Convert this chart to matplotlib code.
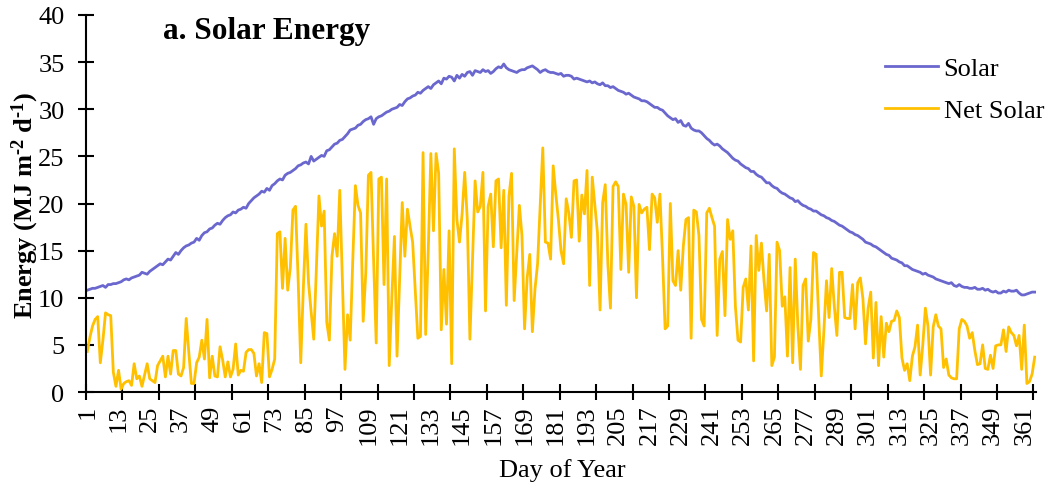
import numpy as np
import matplotlib
matplotlib.use("Agg")
import matplotlib.pyplot as plt
from matplotlib.ticker import FixedLocator, NullFormatter

plt.rcParams['font.family'] = ['Liberation Serif', 'DejaVu Serif']
plt.rcParams['mathtext.fontset'] = 'custom'
plt.rcParams['mathtext.rm'] = 'Liberation Serif:bold'
plt.rcParams['mathtext.bf'] = 'Liberation Serif:bold'
plt.rcParams['mathtext.it'] = 'Liberation Serif:bold:italic'

# Daily solar radiation (MJ m-2 d-1), day 1..365
solar = [
    10.8, 10.9, 11.0, 11.0, 11.1, 11.2, 11.3, 11.1, 11.4, 11.4,
    11.5, 11.5, 11.6, 11.7, 11.9, 12.0, 11.9, 12.1, 12.2, 12.3,
    12.4, 12.7, 12.6, 12.5, 12.8, 13.0, 13.2, 13.4, 13.6, 13.5,
    13.8, 14.1, 14.0, 14.4, 14.8, 14.6, 15.0, 15.3, 15.5, 15.6,
    15.8, 15.9, 16.3, 16.1, 16.6, 16.9, 17.0, 17.3, 17.4, 17.7,
    17.9, 17.8, 18.2, 18.5, 18.7, 18.8, 19.1, 19.0, 19.3, 19.4,
    19.6, 19.5, 20.0, 20.3, 20.6, 20.8, 21.0, 21.3, 21.2, 21.6,
    21.4, 21.9, 22.1, 22.4, 22.6, 22.5, 23.0, 23.2, 23.3, 23.5,
    23.7, 24.0, 24.1, 24.3, 24.4, 24.2, 25.0, 24.5, 24.7, 24.9,
    25.1, 25.0, 25.6, 25.7, 26.0, 26.3, 26.4, 26.7, 26.8, 27.1,
    27.4, 27.8, 27.9, 28.0, 28.3, 28.4, 28.7, 28.9, 29.0, 29.2,
    28.4, 29.0, 29.2, 29.3, 29.5, 29.7, 29.8, 30.0, 30.1, 30.2,
    30.5, 30.4, 30.8, 31.1, 31.2, 31.4, 31.5, 31.8, 31.7, 32.0,
    32.2, 32.4, 32.2, 32.6, 32.8, 33.0, 32.7, 33.3, 33.2, 33.5,
    33.4, 33.0, 33.6, 33.3, 33.7, 33.5, 33.9, 34.0, 33.6, 34.1,
    34.0, 33.9, 34.2, 34.0, 34.1, 33.8, 34.0, 34.3, 34.5, 34.4,
    34.8, 34.4, 34.2, 34.1, 34.0, 33.9, 34.1, 34.2, 34.2, 34.4,
    34.5, 34.6, 34.4, 34.2, 33.9, 34.1, 34.2, 34.0, 33.9, 33.9,
    33.8, 33.7, 33.8, 33.5, 33.6, 33.6, 33.5, 33.2, 33.3, 33.2,
    33.1, 33.0, 32.9, 33.0, 32.8, 32.9, 32.7, 32.6, 32.8, 32.5,
    32.5, 32.3, 32.4, 32.2, 32.0, 31.9, 31.8, 31.6, 31.7, 31.5,
    31.3, 31.2, 31.1, 30.9, 30.9, 30.8, 30.6, 30.4, 30.2, 30.2,
    30.0, 29.9, 29.6, 29.3, 29.1, 28.9, 29.0, 28.6, 28.8, 28.3,
    28.2, 28.5, 28.0, 27.8, 27.7, 27.7, 27.5, 27.2, 26.9, 26.7,
    26.4, 26.2, 26.3, 26.1, 25.8, 25.6, 25.4, 25.1, 24.8, 24.6,
    24.5, 24.2, 24.0, 23.8, 23.7, 23.4, 23.4, 23.1, 22.9, 22.8,
    22.5, 22.2, 22.2, 21.9, 21.7, 21.6, 21.3, 21.1, 21.0, 20.8,
    20.6, 20.5, 20.2, 20.3, 20.0, 19.8, 19.7, 19.5, 19.4, 19.2,
    19.2, 19.0, 18.8, 18.7, 18.5, 18.4, 18.2, 18.1, 17.9, 17.7,
    17.6, 17.4, 17.2, 17.0, 16.9, 16.7, 16.6, 16.4, 16.2, 15.9,
    15.8, 15.7, 15.5, 15.4, 15.2, 15.0, 14.8, 14.6, 14.5, 14.2,
    14.1, 14.0, 13.8, 13.7, 13.4, 13.4, 13.2, 13.0, 12.9, 12.8,
    12.7, 12.5, 12.6, 12.4, 12.3, 12.2, 12.0, 11.9, 11.8, 11.7,
    11.6, 11.5, 11.6, 11.3, 11.2, 11.4, 11.2, 11.1, 11.1, 11.0,
    11.0, 11.1, 10.9, 10.9, 11.0, 10.8, 10.9, 10.7, 10.6, 10.7,
    10.5, 10.5, 10.7, 10.6, 10.8, 10.7, 10.7, 10.8, 10.5, 10.3,
    10.3, 10.4, 10.5, 10.6, 10.6,
]

# Daily net solar radiation (MJ m-2 d-1), day 1..365
net_solar = [
    4.3, 5.8, 7.0, 7.7, 8.0, 3.1, 5.5, 8.4, 8.2, 8.1,
    2.1, 0.6, 2.3, 0.3, 0.9, 1.1, 1.2, 0.7, 3.0, 1.4,
    1.7, 0.6, 1.8, 3.0, 1.4, 1.2, 1.0, 2.8, 3.3, 3.8,
    1.6, 3.8, 1.9, 4.4, 4.4, 1.9, 1.7, 2.6, 7.8, 4.2,
    0.9, 0.9, 3.1, 3.7, 5.5, 3.5, 7.7, 1.5, 3.8, 1.7,
    1.6, 4.8, 3.4, 1.6, 3.2, 1.6, 2.4, 5.1, 1.8, 2.3,
    2.2, 4.2, 4.5, 4.5, 4.1, 1.7, 3.0, 1.0, 6.3, 6.2,
    1.6, 2.4, 3.5, 16.8, 17.0, 11.0, 16.3, 10.8, 13.2, 19.3,
    19.7, 12.0, 3.1, 11.0, 17.8, 11.6, 8.5, 5.6, 13.0, 20.8,
    17.6, 19.2, 7.4, 5.5, 14.4, 16.8, 14.4, 21.4, 12.0, 2.4,
    8.2, 5.5, 14.0, 21.9, 19.8, 19.0, 7.5, 12.7, 23.0, 23.3,
    14.0, 5.2, 22.6, 22.8, 11.4, 22.6, 2.8, 10.0, 16.5, 3.8,
    12.0, 20.1, 14.4, 19.4, 17.6, 15.9, 10.8, 5.7, 5.9, 25.4,
    6.1, 15.0, 25.3, 17.1, 25.3, 23.2, 6.6, 13.0, 7.2, 17.1,
    3.0, 25.8, 18.3, 15.9, 18.9, 23.3, 18.3, 5.6, 14.0, 22.4,
    19.1, 19.7, 23.3, 8.6, 19.7, 21.0, 15.4, 22.4, 22.6, 15.3,
    21.4, 9.2, 20.8, 23.2, 9.7, 14.8, 19.8, 16.6, 6.7, 12.1,
    14.6, 6.4, 10.9, 13.6, 19.8, 25.9, 15.9, 15.8, 14.1, 24.0,
    21.0, 18.3, 15.0, 13.6, 20.5, 19.0, 16.4, 22.4, 22.5, 16.0,
    20.9, 18.9, 23.5, 11.3, 22.8, 19.8, 16.9, 8.7, 20.1, 22.0,
    13.6, 8.9, 21.8, 22.3, 21.8, 13.0, 21.0, 19.9, 12.7, 20.7,
    19.7, 10.0, 19.9, 19.0, 19.4, 19.6, 15.1, 21.0, 20.6, 18.0,
    21.0, 14.4, 6.7, 7.0, 20.0, 11.8, 11.3, 15.0, 10.8, 15.5,
    18.3, 18.5, 5.7, 19.3, 19.1, 16.6, 7.7, 7.0, 19.0, 19.5,
    18.5, 17.6, 6.0, 14.1, 14.9, 8.1, 18.3, 16.2, 17.1, 9.1,
    5.5, 5.3, 11.1, 12.0, 8.7, 15.5, 3.3, 16.6, 12.9, 15.8,
    11.8, 8.6, 14.6, 2.8, 3.7, 15.9, 15.0, 9.1, 10.1, 3.8,
    13.2, 3.1, 14.1, 7.0, 2.4, 11.3, 12.0, 5.4, 7.7, 14.8,
    14.6, 8.0, 1.7, 6.5, 11.8, 7.9, 13.1, 9.1, 6.0, 12.7,
    12.7, 7.9, 7.8, 7.8, 11.4, 6.7, 11.6, 12.1, 9.9, 5.1,
    8.9, 10.6, 3.6, 9.5, 2.8, 8.0, 3.7, 7.3, 6.4, 7.5,
    7.6, 8.6, 7.9, 3.6, 2.3, 3.0, 1.2, 3.8, 4.8, 7.1,
    1.8, 5.0, 8.9, 7.0, 1.8, 6.9, 8.2, 7.0, 6.7, 2.6,
    3.5, 1.8, 1.5, 1.4, 1.4, 6.7, 7.7, 7.5, 7.0, 5.7,
    6.3, 4.4, 2.9, 3.0, 5.0, 2.5, 2.4, 3.9, 2.5, 4.9,
    5.0, 5.0, 6.6, 4.3, 6.9, 6.3, 6.0, 4.9, 6.0, 2.4,
    7.1, 0.9, 1.1, 1.9, 3.7,
]

days = np.arange(1, len(solar) + 1)
label_days = list(range(1, 362, 12))
y_ticks = list(range(0, 41, 5))

SOLAR_COLOR = '#6A67CE'
NET_COLOR = '#FFC000'
FS = 19

fig = plt.figure(figsize=(10.46, 4.89), dpi=100)
ax = fig.add_axes([86 / 1046, 1 - 393 / 489, 950 / 1046, 377 / 489])

ax.plot(days, solar, color=SOLAR_COLOR, lw=2.0, label='Solar', solid_joinstyle='round')
ax.plot(days, net_solar, color=NET_COLOR, lw=2.0, label='Net Solar', solid_joinstyle='round')

ax.set_xlim(0.5, len(days) + 0.5)
ax.set_ylim(0, 40)

# Category labels every 12 days, tick marks on category boundaries every 14 days
ax.xaxis.set_major_locator(FixedLocator(label_days))
ax.set_xticklabels([str(d) for d in label_days], rotation=90, fontsize=FS)
ax.tick_params(axis='x', which='major', length=0, pad=9)
ax.xaxis.set_minor_locator(FixedLocator([0.5 + 14 * k for k in range(27)]))
ax.xaxis.set_minor_formatter(NullFormatter())
ax.tick_params(axis='x', which='minor', direction='inout', length=11, width=1.5, color='black')

ax.set_yticks(y_ticks)
ax.set_yticklabels([str(v) for v in y_ticks], fontsize=FS)
ax.tick_params(axis='y', direction='inout', length=11, width=1.5, pad=10)

for side in ('top', 'right'):
    ax.spines[side].set_visible(False)
for side in ('left', 'bottom'):
    ax.spines[side].set_linewidth(1.5)

fig.text(163 / 1046, 1 - 31 / 489, 'a. Solar Energy', fontsize=22.5, fontweight='bold',
         ha='left', va='center')
fig.text(562 / 1046, 1 - 471 / 489, 'Day of Year', fontsize=FS, ha='center', va='center')
fig.text(25 / 1046, 1 - 205 / 489,
         r'Energy (MJ m$^{\text{-2}}$ d$^{\text{-1}}$)',
         fontsize=FS, fontweight='bold', rotation=90, ha='center', va='center')

ax.legend(loc='upper right', bbox_to_anchor=(1044 / 1046, 1 - 58 / 489),
          bbox_transform=fig.transFigure, frameon=False, fontsize=FS,
          handlelength=2.0, handletextpad=0.2, labelspacing=0.68, borderpad=0,
          borderaxespad=0)

fig.savefig('out.png', dpi=100)
